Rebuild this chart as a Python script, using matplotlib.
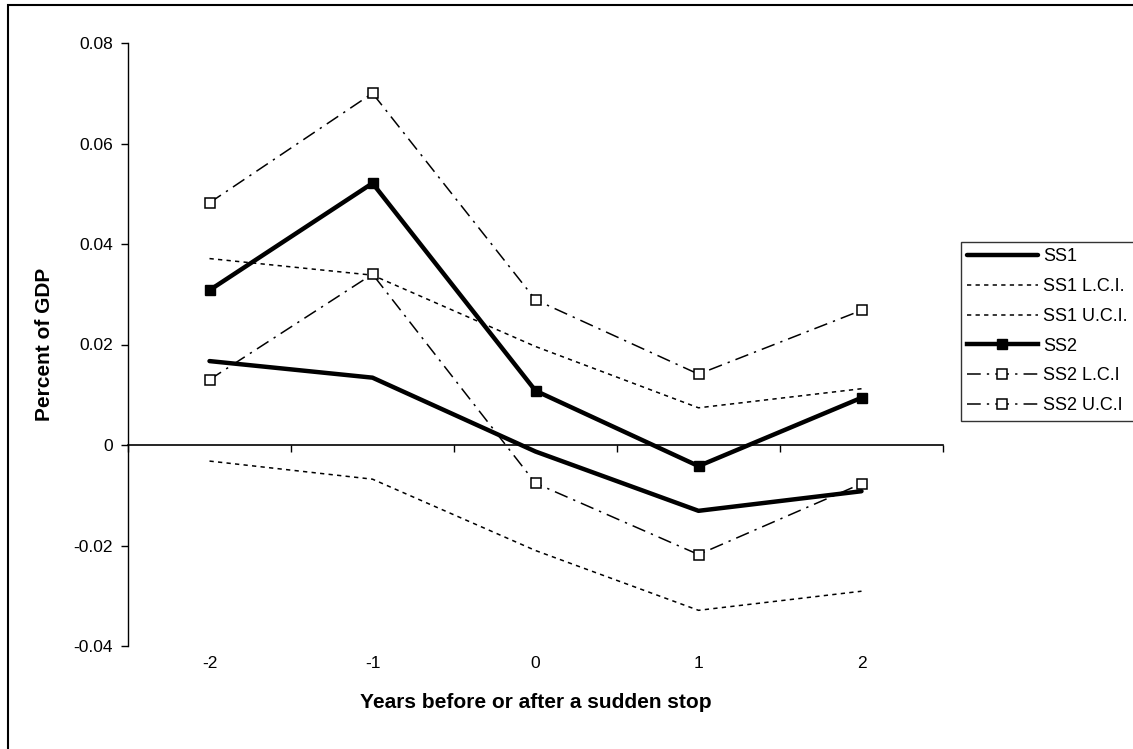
import matplotlib
matplotlib.use("Agg")
import matplotlib.pyplot as plt
from matplotlib.patches import Rectangle
from matplotlib.ticker import FixedLocator

plt.rcParams['font.family'] = ['Liberation Sans', 'DejaVu Sans']

years = [-2, -1, 0, 1, 2]
year_labels = ['-2', '-1', '0', '1', '2']
ss1 = [0.0167, 0.0134, -0.0013, -0.0131, -0.0092]
ss1_lci = [-0.0032, -0.0068, -0.0210, -0.0329, -0.0291]
ss1_uci = [0.0371, 0.0338, 0.0196, 0.0074, 0.0112]
ss2 = [0.0308, 0.0521, 0.0108, -0.0042, 0.0094]
ss2_lci = [0.0130, 0.0340, -0.0076, -0.0218, -0.0077]
ss2_uci = [0.0482, 0.0700, 0.0289, 0.0141, 0.0268]
y_ticks = [-0.04, -0.02, 0.0, 0.02, 0.04, 0.06, 0.08]
y_tick_labels = ['-0.04', '-0.02', '0', '0.02', '0.04', '0.06', '0.08']

W, H = 1133, 749
fig = plt.figure(figsize=(W / 100, H / 100), dpi=100)
fig.patch.set_facecolor('white')
ax = fig.add_axes([128 / W, 1 - 646 / H, (943 - 128) / W, (646 - 43) / H])

ax.plot(years, ss1, color='black', lw=3.2, solid_capstyle='round', label='SS1')
l1, = ax.plot(years, ss1_lci, color='black', lw=1.1, label='SS1 L.C.I.')
l1.set_dashes((2.8, 2.8))
l2, = ax.plot(years, ss1_uci, color='black', lw=1.1, label='SS1 U.C.I.')
l2.set_dashes((2.8, 2.8))
ax.plot(years, ss2, color='black', lw=3.2, marker='s', markersize=6.5,
        markerfacecolor='black', markeredgecolor='black', label='SS2')
l3, = ax.plot(years, ss2_lci, color='black', lw=1.1, marker='s', markersize=6.5,
              markerfacecolor='white', markeredgecolor='black', markeredgewidth=1.1,
              label='SS2 L.C.I')
l3.set_dashes((9, 4, 1.5, 4))
l4, = ax.plot(years, ss2_uci, color='black', lw=1.1, marker='s', markersize=6.5,
              markerfacecolor='white', markeredgecolor='black', markeredgewidth=1.1,
              label='SS2 U.C.I')
l4.set_dashes((9, 4, 1.5, 4))

ax.set_xlim(-2.5, 2.5)
ax.set_ylim(-0.04, 0.08)
ax.set_yticks(y_ticks)
ax.set_yticklabels(y_tick_labels, fontsize=12.5)
ax.tick_params(axis='y', direction='out', length=5, width=1, pad=6)

for s in ['top', 'right']:
    ax.spines[s].set_visible(False)
ax.spines['left'].set_linewidth(1.0)
ax.spines['bottom'].set_position(('data', 0))
ax.spines['bottom'].set_linewidth(1.2)

# category boundary ticks on the zero line
ax.set_xticks([])
ax.xaxis.set_minor_locator(FixedLocator([-2.5, -1.5, -0.5, 0.5, 1.5, 2.5]))
ax.tick_params(axis='x', which='minor', direction='out', length=5, width=1)

sec = ax.secondary_xaxis(0)
sec.set_xticks(years)
sec.set_xticklabels(year_labels, fontsize=12.5)
sec.tick_params(axis='x', length=0, pad=7)
sec.spines['bottom'].set_visible(False)
sec.set_xlabel('Years before or after a sudden stop', fontsize=15,
               fontweight='bold', labelpad=16)

ax.set_ylabel('Percent of GDP', fontsize=15, fontweight='bold', labelpad=14)

leg = ax.legend(loc='upper left', bbox_to_anchor=(960.7 / W, 1 - 241.7 / H),
                bbox_transform=fig.transFigure, fontsize=13, frameon=True,
                fancybox=False, edgecolor='black', handlelength=3.9,
                handletextpad=0.3, labelspacing=0.71, borderpad=0.36,
                borderaxespad=0)
leg.get_frame().set_linewidth(1.0)

fig.patches.append(Rectangle((7.5 / W, -0.2), 1.2, 1.2 - 5 / H,
                             transform=fig.transFigure, fill=False,
                             edgecolor='black', linewidth=1.5))

fig.savefig('out.png', dpi=100)
